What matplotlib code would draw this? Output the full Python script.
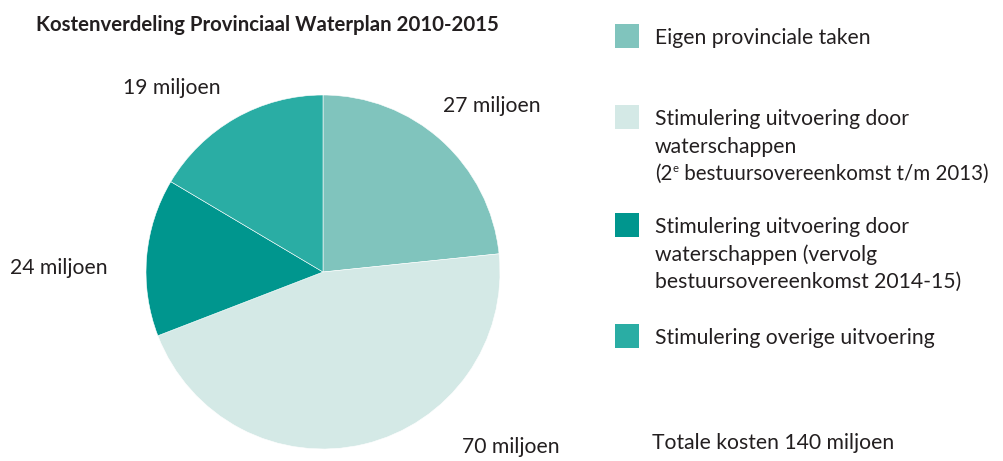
import matplotlib
matplotlib.use("Agg")
import matplotlib.pyplot as plt
from matplotlib.patches import Rectangle

plt.rcParams["font.family"] = ["Lato", "DejaVu Sans"]

TITLE = "Kostenverdeling Provinciaal Waterplan 2010-2015"

# label values (miljoen) and drawn slice sizes (degrees, as they appear)
values = [27, 70, 24, 19]
slice_degrees = [84.1, 164.8, 51.8, 59.3]
colors = ["#80c4bd", "#d4e9e6", "#00968e", "#2aada4"]
# a line given as a tuple is (before, superscript, after)
legend_labels = [
    ["Eigen provinciale taken"],
    ["Stimulering uitvoering door", "waterschappen",
     ("(2", "e", " bestuursovereenkomst t/m 2013)")],
    ["Stimulering uitvoering door", "waterschappen (vervolg",
     "bestuursovereenkomst 2014-15)"],
    ["Stimulering overige uitvoering"],
]
total_label = "Totale kosten 140 miljoen"

W, H = 1004, 461
TEXT = "#231f20"
FS = 15.2

fig = plt.figure(figsize=(W / 100, H / 100), dpi=100)
ax = fig.add_axes([0, 0, 1, 1])
ax.axis("off")

ax.pie(slice_degrees, colors=colors, startangle=90, counterclock=False,
       center=(323, H - 272), radius=177,
       wedgeprops=dict(linewidth=0.4, edgecolor="white"))
ax.set_xlim(0, W)
ax.set_ylim(0, H)
ax.set_aspect("equal")
renderer = fig.canvas.get_renderer()

ax.text(36, H - 25, TITLE, fontsize=14.7, fontweight="bold", color=TEXT,
        va="center", ha="left")

label_pos = [(443, 106), (462, 447), (10, 268), (123, 88)]
for v, (x, y) in zip(values, label_pos):
    ax.text(x, H - y, f"{v} miljoen", fontsize=FS, color=TEXT,
            va="center", ha="left")

legend_y = [36, 117, 225, 336]
for lines, col, y in zip(legend_labels, colors, legend_y):
    ax.add_patch(Rectangle((615, H - y - 12), 24, 24, color=col, lw=0))
    for i, line in enumerate(lines):
        ly = H - (y + 27.5 * i)
        if isinstance(line, tuple):
            before, sup, after = line
            fs = 14.8
            t = ax.text(655, ly, before, fontsize=fs, color=TEXT,
                        va="center_baseline", ha="left")
            x = t.get_window_extent(renderer).x1
            s = ax.text(x + 0.5, ly + 5, sup, fontsize=fs * 0.55, color=TEXT,
                        va="center_baseline", ha="left")
            x = s.get_window_extent(renderer).x1
            ax.text(x, ly, after, fontsize=fs, color=TEXT,
                    va="center_baseline", ha="left")
        else:
            ax.text(655, ly, line, fontsize=FS, color=TEXT,
                    va="center_baseline", ha="left")

ax.text(652, H - 443, total_label, fontsize=FS, color=TEXT,
        va="center", ha="left")

fig.savefig("out.png", dpi=100)
